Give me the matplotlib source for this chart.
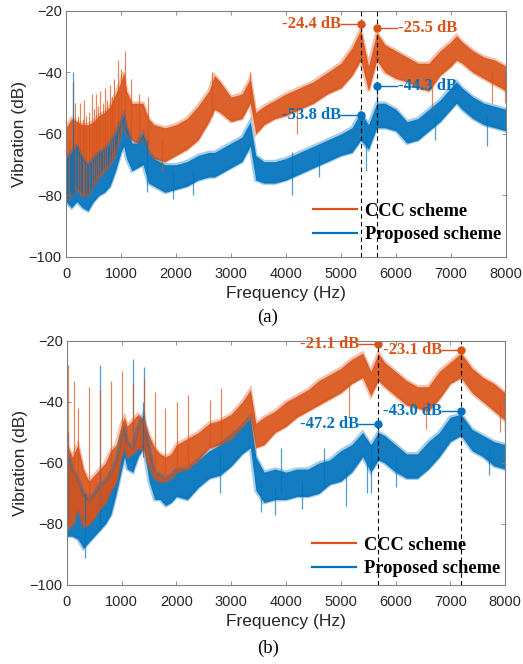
import matplotlib
matplotlib.use('Agg')
import matplotlib.pyplot as plt
import numpy as np

ORANGE = '#D95319'
BLUE = '#0072BD'

# ---------- panel (a): noise band envelopes ----------
freq_a = [0, 100, 200, 300, 400, 500, 600, 700, 800, 900, 1000, 1050, 1100, 1200, 1300,
          1400, 1500, 1600, 1800, 2000, 2200, 2400, 2600, 2700, 2800, 3000, 3200, 3350,
          3450, 3600, 3800, 4000, 4250, 4500, 4750, 5000, 5200, 5360, 5500, 5650, 5800,
          6000, 6200, 6400, 6600, 6800, 7000, 7100, 7200, 7400, 7600, 7800, 8000]
ccc_a_hi = [-58, -55, -56, -57, -57, -56, -54, -53, -51, -47, -43, -40, -46, -50, -50,
            -50, -55, -57, -58, -57, -55, -51, -46, -41, -43, -48, -47, -42,
            -53, -51, -49, -47, -45, -43, -40, -37, -32, -26, -38, -27, -31,
            -33, -35, -37, -37, -33, -30, -28, -30, -33, -35, -36, -38]
ccc_a_lo = [-82, -80, -78, -80, -80, -77, -74, -72, -70, -66, -60, -56, -60, -62, -63,
            -62, -66, -68, -69, -67, -65, -62, -56, -52, -53, -56, -55, -50,
            -60, -57, -55, -54, -52, -50, -47, -45, -41, -36, -46, -36, -40,
            -42, -43, -45, -46, -41, -38, -36, -37, -40, -42, -44, -46]
prop_a_hi = [-68, -66, -64, -68, -70, -68, -66, -65, -63, -60, -56, -54, -58, -63, -63,
             -60, -66, -68, -70, -70, -69, -67, -66, -66, -65, -63, -61, -56,
             -67, -69, -69, -68, -66, -64, -62, -60, -58, -53, -57, -50, -50,
             -52, -56, -55, -52, -49, -45, -43, -45, -48, -50, -51, -52]
prop_a_lo = [-82, -84, -82, -84, -85, -82, -80, -79, -77, -72, -66, -64, -68, -72, -71,
             -70, -76, -77, -79, -78, -77, -75, -74, -74, -73, -71, -69, -64,
             -75, -76, -76, -75, -73, -71, -69, -67, -66, -62, -65, -58, -58,
             -59, -63, -62, -59, -56, -52, -50, -52, -55, -57, -58, -59]

# narrow spikes and dips (frequency, bottom, top)
ccc_a_spk_f = [60, 127, 170, 215, 261, 300, 333, 370, 412, 473, 510, 552, 590, 624, 665,
               703, 750, 794, 830, 867, 945, 1006, 1067, 1182, 1321, 1491, 1750, 2650,
               3350, 4200, 6650, 7750, 7980]
ccc_a_spk_lo = [-80, -78, -78, -79, -80, -80, -80, -80, -79, -77, -76, -75, -74, -74, -73,
                -72, -71, -70, -69, -68, -64, -60, -58, -62, -62, -64, -72, -54,
                -50, -60, -52, -50, -50]
ccc_a_spk_hi = [-62, -43, -50, -54, -50, -55, -49, -54, -53, -47, -52, -47, -51, -46, -50,
                -45, -49, -44, -48, -42, -36, -39, -33, -42, -47, -48, -62, -40,
                -40, -50, -42, -40, -40]
prop_a_spk_f = [127, 1480, 1950, 2300, 4100, 4600, 5450, 5650, 6700, 7650]
prop_a_spk_lo = [-80, -79, -81, -80, -80, -74, -72, -58, -62, -64]
prop_a_spk_hi = [-40, -62, -72, -72, -66, -66, -58, -44.3, -54, -54]

# ---------- panel (b) ----------
freq_b = [0, 100, 200, 300, 400, 500, 600, 700, 800, 900, 1000, 1050, 1100, 1200, 1300,
          1400, 1500, 1600, 1700, 1800, 1900, 2000, 2200, 2400, 2600, 2800, 3000, 3200,
          3350, 3450, 3600, 3800, 4000, 4200, 4400, 4600, 4800, 5000, 5200, 5400, 5550,
          5686, 5800, 6000, 6200, 6400, 6600, 6800, 7000, 7196, 7400, 7600, 7800, 8000]
ccc_b_hi = [-54, -58, -54, -62, -66, -64, -62, -60, -56, -54, -47, -45, -48, -46, -44,
            -46, -51, -55, -57, -58, -57, -54, -52, -50, -47, -46, -44, -40,
            -36, -47, -45, -43, -40, -38, -36, -33, -31, -29, -26, -24, -30,
            -24, -27, -30, -33, -35, -35, -30, -27, -24, -29, -32, -34, -37]
ccc_b_lo = [-82, -80, -75, -81, -80, -78, -75, -73, -69, -66, -57, -55, -58, -57, -55,
            -56, -61, -65, -66, -66, -65, -63, -62, -59, -55, -54, -52, -48,
            -45, -55, -54, -50, -48, -45, -43, -41, -39, -37, -34, -32, -38,
            -33, -35, -38, -41, -42, -43, -39, -34, -32, -37, -40, -43, -46]
prop_b_hi = [-56, -62, -65, -70, -72, -70, -67, -66, -63, -59, -51, -48, -53, -55, -48,
             -44, -55, -63, -64, -65, -64, -62, -62, -59, -56, -54, -51, -48,
             -45, -58, -63, -62, -63, -62, -62, -60, -59, -56, -54, -50, -54,
             -50, -51, -54, -57, -57, -53, -50, -45, -44, -49, -51, -53, -54]
prop_b_lo = [-84, -84, -85, -88, -86, -84, -82, -80, -77, -70, -62, -58, -62, -63, -58,
             -55, -66, -72, -72, -74, -73, -71, -72, -68, -65, -64, -61, -57,
             -55, -69, -73, -72, -72, -71, -71, -70, -67, -66, -63, -58, -63,
             -59, -60, -63, -65, -65, -62, -58, -53, -51, -56, -58, -61, -62]

ccc_b_spk_f = [18, 122, 201, 396, 597, 804, 1005, 1200, 1400, 1601, 1796, 2009, 2204,
               2612, 2807, 5150, 6550, 7900, 8000]
ccc_b_spk_lo = [-82, -80, -75, -80, -75, -69, -57, -57, -56, -65, -66, -63, -62,
                -55, -54, -45, -49, -50, -50]
ccc_b_spk_hi = [-28, -33, -42, -35, -36, -33, -30, -34, -32, -36.6, -42, -40, -37.7,
                -39.5, -35.4, -34, -40, -40, -37]
prop_b_spk_f = [18, 330, 597, 1200, 1380, 1400, 2800, 3550, 3800, 3900, 4300, 4700,
                5100, 5480, 5560, 5686, 6000, 7196, 7700]
prop_b_spk_lo = [-84, -91, -82, -63, -58, -55, -70, -76, -77, -70, -75, -68,
                 -74, -70, -70, -59, -68, -51, -64]
prop_b_spk_hi = [-50, -70, -28, -26, -40, -28.5, -56, -66, -68, -55, -66, -55,
                 -62, -60, -54, -47.2, -58, -43, -55]

# annotated peaks
ann_a_f = [5360, 5650, 5360, 5650]
ann_a_v = [-24.4, -25.5, -53.8, -44.3]
ann_a_c = [ORANGE, ORANGE, BLUE, BLUE]
ann_a_side = ['left', 'right', 'left', 'right']
ann_b_f = [5686, 7196, 5686, 7196]
ann_b_v = [-21.1, -23.1, -47.2, -43.0]
ann_b_c = [ORANGE, ORANGE, BLUE, BLUE]
ann_b_text_end = [5330, 6850, 5330, 6850]

SANS = 'Liberation Sans'
SERIF = 'Liberation Serif'

fig = plt.figure(figsize=(5.23, 6.64), dpi=100)
ax_a = fig.add_axes([0.1262, 0.6130, 0.8413, 0.3705])
ax_b = fig.add_axes([0.1281, 0.1190, 0.8375, 0.3675])


def draw_band(ax, f, lo, hi, color):
    ax.plot(f, hi, color=color, lw=2.6, alpha=0.35, solid_joinstyle='miter')
    ax.plot(f, lo, color=color, lw=2.6, alpha=0.35, solid_joinstyle='miter')
    ax.fill_between(f, lo, hi, color=color, alpha=0.92, lw=0)


def draw_spikes(ax, sf, slo, shi, color):
    ax.vlines(sf, slo, shi, color=color, lw=0.9, alpha=0.7)


def style(ax, legend_y):
    ax.set_xlim(0, 8000)
    ax.set_ylim(-100, -20)
    ax.set_xticks(np.arange(0, 8001, 1000))
    ax.set_yticks(np.arange(-100, -19, 20))
    ax.tick_params(direction='in', top=True, right=True, length=3, width=0.6,
                   colors='#808080', labelcolor='#262626', labelsize=10.5)
    ax.tick_params(axis='x', pad=7)
    ax.tick_params(axis='y', pad=3)
    for lab in ax.get_xticklabels() + ax.get_yticklabels():
        lab.set_fontfamily(SANS)
    for s in ax.spines.values():
        s.set_color('#808080')
        s.set_linewidth(0.8)
    ax.set_xlabel('Frequency (Hz)', fontsize=12.5, family=SANS, color='#262626', labelpad=4)
    ax.set_ylabel('Vibration (dB)', fontsize=12.5, family=SANS, color='#262626', labelpad=1)
    ax.plot([], [], color=ORANGE, lw=1.6, label='CCC scheme')
    ax.plot([], [], color=BLUE, lw=1.6, label='Proposed scheme')
    ax.legend(loc='lower right', bbox_to_anchor=(1.02, legend_y), frameon=False,
              handlelength=2.4, handletextpad=0.4, labelspacing=0.35, borderaxespad=0.35,
              prop={'family': SERIF, 'weight': 'bold', 'size': 13.3})


# panel (a): CCC drawn first, proposed on top
draw_band(ax_a, freq_a, ccc_a_lo, ccc_a_hi, ORANGE)
draw_spikes(ax_a, ccc_a_spk_f, ccc_a_spk_lo, ccc_a_spk_hi, ORANGE)
draw_band(ax_a, freq_a, prop_a_lo, prop_a_hi, BLUE)
draw_spikes(ax_a, prop_a_spk_f, prop_a_spk_lo, prop_a_spk_hi, BLUE)
for x in sorted(set(ann_a_f)):
    ax_a.axvline(x, color='k', ls=(0, (4, 3)), lw=0.8)
for f, v, c, side in zip(ann_a_f, ann_a_v, ann_a_c, ann_a_side):
    if side == 'left':
        ax_a.plot([f - 360, f], [v, v], color=c, lw=1)
        ax_a.text(f - 360, v, '%.1f dB' % v, color=c, ha='right', va='center',
                  family=SERIF, weight='bold', fontsize=12)
    else:
        ax_a.plot([f, f + 370], [v, v], color=c, lw=1)
        ax_a.text(f + 380, v, '%.1f dB' % v, color=c, ha='left', va='center',
                  family=SERIF, weight='bold', fontsize=12)
    ax_a.plot(f, v, 'o', color=c, ms=5)
style(ax_a, 0.0)

# panel (b): proposed drawn first, CCC on top
draw_band(ax_b, freq_b, prop_b_lo, prop_b_hi, BLUE)
draw_spikes(ax_b, prop_b_spk_f, prop_b_spk_lo, prop_b_spk_hi, BLUE)
draw_band(ax_b, freq_b, ccc_b_lo, ccc_b_hi, ORANGE)
draw_spikes(ax_b, ccc_b_spk_f, ccc_b_spk_lo, ccc_b_spk_hi, ORANGE)
for x in sorted(set(ann_b_f)):
    ax_b.axvline(x, color='k', ls=(0, (4, 3)), lw=0.8)
for f, v, c, xe in zip(ann_b_f, ann_b_v, ann_b_c, ann_b_text_end):
    ax_b.plot([xe, f], [v, v], color=c, lw=1)
    ax_b.text(xe, v, '%.1f dB' % v, color=c, ha='right', va='center',
              family=SERIF, weight='bold', fontsize=12)
    ax_b.plot(f, v, 'o', color=c, ms=5)
style(ax_b, -0.025)

fig.text(0.512, 1 - 317 / 664, '(a)', ha='center', va='center', family=SERIF, fontsize=13.5)
fig.text(0.512, 1 - 648 / 664, '(b)', ha='center', va='center', family=SERIF, fontsize=13.5)

fig.savefig('out.png', dpi=100, facecolor='white')
